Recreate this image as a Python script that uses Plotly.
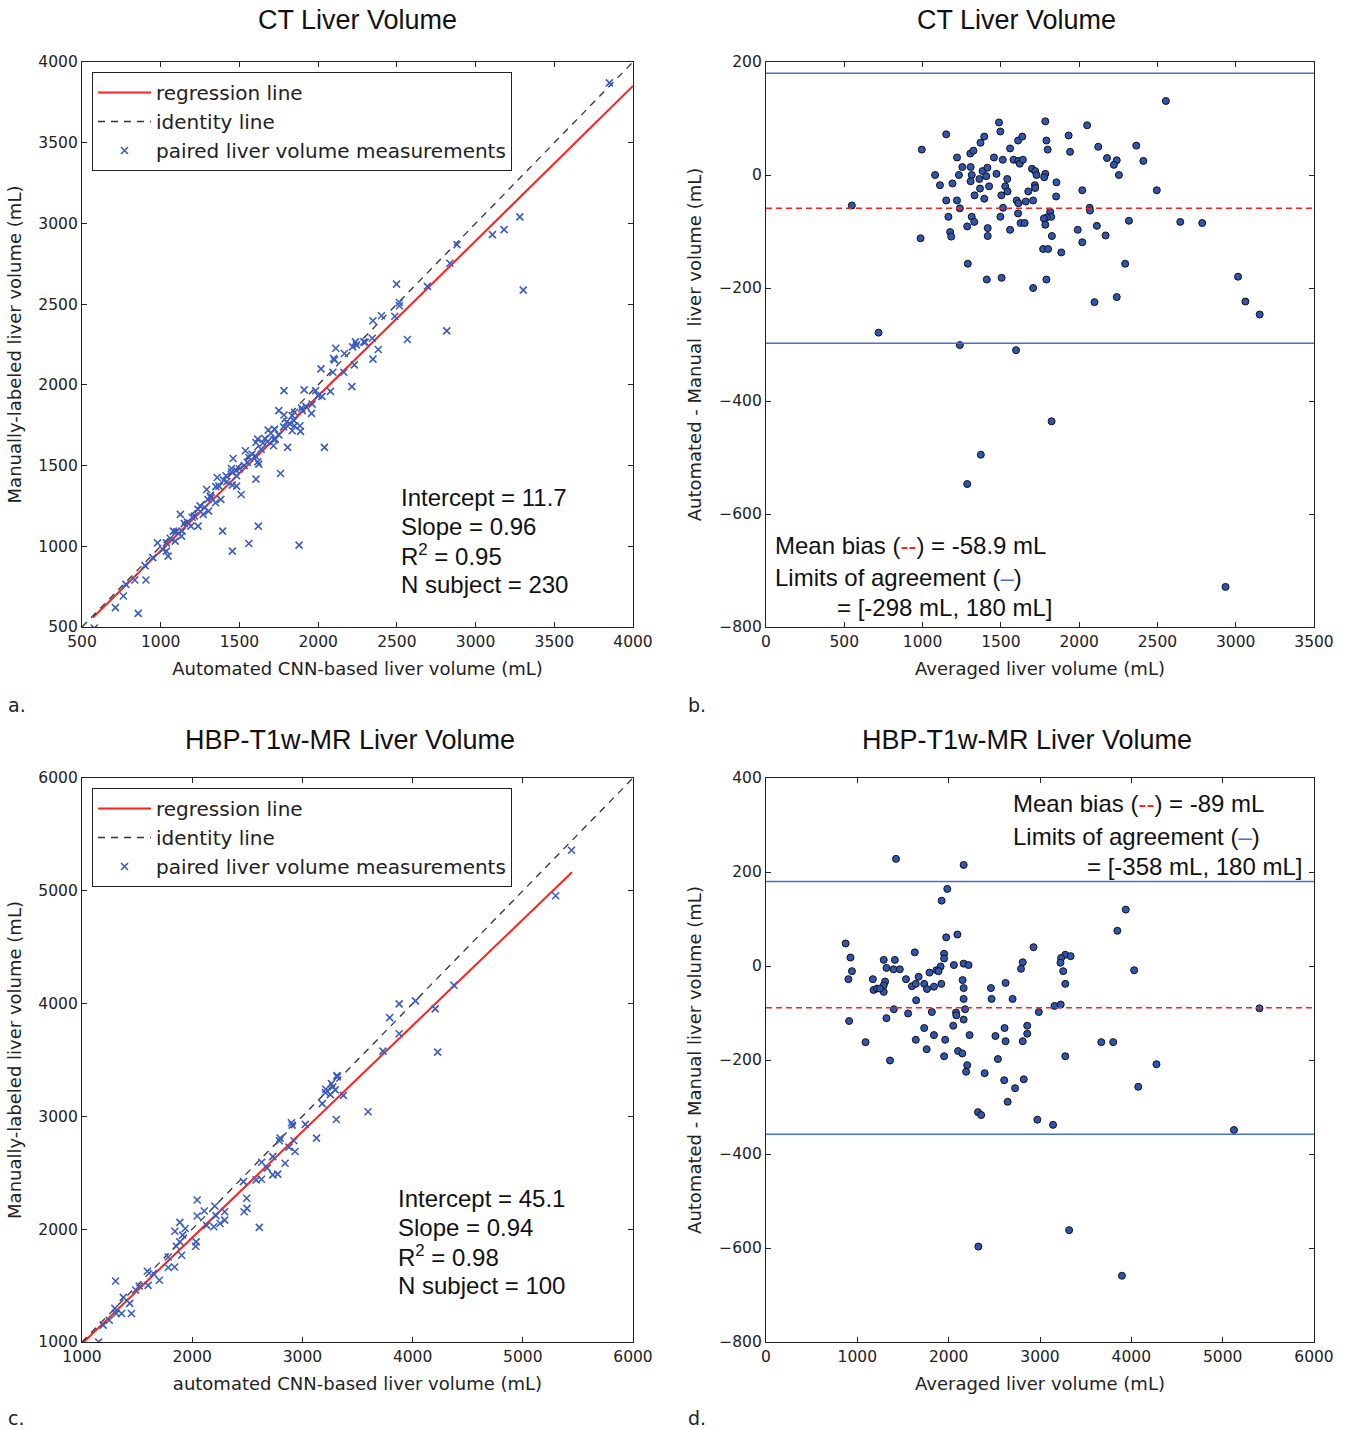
import plotly.graph_objects as go

# ---------------- DATA ----------------
# Panel a: CT, automated (x) vs manual (y)
a_auto = [3850, 3281, 3181, 3107, 3303, 2882, 2837, 2694, 2498, 2516, 2516, 2487, 2817, 2567, 2348, 2402,
          2382, 2344, 2290, 2237, 2219, 2112, 2167, 2098, 2348,
          2230, 2214, 2103, 2243, 2299, 2018, 2094, 2163, 2078, 2040, 1783, 1911, 1984, 2000, 2024,
          1962, 1922, 1895, 1958, 1750, 1783, 1835, 1846, 1850, 1835, 1888, 1884, 1806, 1723, 1683,
          1661, 1728, 1716, 1616, 1605, 1638, 1560, 1538, 1616, 1623, 1605, 1761, 1460, 1449, 1482,
          1455, 1482, 1511, 1415, 1359, 1370, 1292, 1315, 1348, 1382, 1304, 1237, 1270, 1214, 1125,
          1170, 1192, 1237, 1136, 1080, 1132, 1092, 1036, 980, 1013, 1036, 1047, 1393, 1620, 1560,
          1455, 1879, 835, 906, 779, 763, 712, 857, 578,
          1350, 1400, 1450, 1500, 1550, 1600, 1650, 1700, 1750, 1800, 1850, 1900, 1250, 1300, 1150,
          1200, 1420, 1480, 1530, 1580, 1680, 1720, 1780, 1820, 1320, 1280, 1100, 1060, 950, 900]
a_manual = [3871, 3041, 2962, 2931, 2587, 2869, 2753, 2610, 2624, 2510, 2490, 2425, 2334, 2281, 2397, 2428,
            2219, 2289, 2266, 2266, 2235, 2227, 2194, 2163, 2159,
            2124, 1989, 2155, 2248, 2264, 2099, 2078, 2078, 1960, 1613, 1964, 1969, 1964, 1933, 1929,
            1881, 1867, 1856, 1823, 1840, 1813, 1809, 1778, 1747, 1716, 1712, 1747, 1613, 1726, 1720,
            1668, 1664, 1623, 1664, 1643, 1602, 1550, 1592, 1523, 1509, 1416, 1451, 1544, 1482, 1437,
            1379, 1373, 1321, 1437, 1426, 1373, 1352, 1311, 1270, 1291, 1218, 1229, 1198, 1187, 1198,
            1150, 1125, 1125, 1094, 1094, 1063, 1032, 1021, 1021, 980, 970, 939, 1094, 1125, 1017,
            970, 1007, 791, 791, 764, 692, 620, 584, 493,
            1370, 1410, 1460, 1480, 1520, 1560, 1640, 1700, 1690, 1770, 1830, 1840, 1250, 1290, 1140,
            1180, 1400, 1470, 1500, 1570, 1650, 1660, 1740, 1760, 1300, 1240, 1090, 1050, 930, 880]

# Panel b: CT Bland-Altman (average, difference)
b_avg = [2554, 548, 995, 987, 719, 1238, 1597, 1151, 1080, 1111, 1220, 1191, 1151, 1220, 1238, 1165,
         1176, 1183, 1254, 1232, 1307, 1314, 1307, 1305, 1325, 1370, 1394, 1383, 1363, 1414, 1407,
         1367, 1332, 1394, 1425, 1314, 1330, 1285, 1416, 1416, 1289, 1410, 1505, 1488, 1497, 1456,
         1472, 1512, 1559, 1581, 1612, 1621, 1641, 1610, 1637, 1541, 1528, 1543, 1503, 1514, 1497,
         1559, 1601, 1612, 1610, 1626, 1652, 1659, 1675, 1706, 1699, 1719, 1728, 1717, 1719, 1706,
         1784, 1791, 1799, 1784, 1777, 1855, 1853, 1815, 1822, 1793, 1775, 1784, 1826, 1770, 1802,
         1886, 1791, 1933, 1942, 2020, 2051, 2067, 2069, 1991, 2020, 2113, 2122, 2178, 2240, 2222,
         2254, 2169, 2318, 2294, 2098, 2240, 2365, 2410, 2496, 2646, 2786, 3015, 3062, 3153,
         1824, 1372, 1285, 2935]
b_diff = [131, -54, 45, -112, -279, -301, -310, 72, 0, -18, 31, -15, -45, -45, -59, -74,
          -101, -109, 14, 0, 14, 0, -11, 38, 43, 57, 68, 7, -7, 13, -2,
          -24, -36, -42, -20, -74, -83, -91, -94, -108, -157, -185, -182, 93, 77, 31,
          2, 27, 47, 27, 25, 20, 27, 61, 68, -7, -20, -29, -36, -58, -74,
          -97, -45, -50, -68, -85, -85, -47, -29, -45, 11, 7, 0, -18, -23, -200,
          95, 61, 45, 2, -4, -13, -38, -65, -74, -75, -77, -88, -108, -131, -131,
          -137, -185, 70, 41, -27, 88, -58, -63, -97, -119, -90, 50, 30, 26, 18,
          0, -107, -81, -157, -225, -216, 52, 25, -27, -83, -85, -180, -224, -247,
          -436, -495, -547, -729]
b_bias = -58.9
b_loa = [-298, 180]

# Panel c: HBP-T1w-MR, automated (x) vs manual (y)
c_auto = [5442, 5298, 4375, 4205, 4026, 3878, 3792, 3878, 3731, 4227, 3314,
          3317, 3263, 3276, 3212, 3298, 3209, 3254, 3372, 3180, 3308, 3596, 3026, 3128, 2901, 2907,
          2923, 2933, 2878, 2798, 2792, 2843, 2731, 2680, 2631, 2628, 2580, 2731, 2776, 2465, 2494,
          2497, 2471, 2609, 2045, 2045, 2109, 2131, 2205, 2215, 2295, 2295, 2253, 2196, 1888, 1843,
          1936, 1913, 1888, 1856, 2035, 2032, 1904, 1840, 1782, 1782, 1702, 1648, 1593, 1600, 1305,
          1375, 1433, 1449, 1298, 1311, 1359, 1247, 1192, 1151, 1519, 1487]
c_manual = [5359, 4956, 4163, 3953, 4024, 3997, 3876, 3733, 3579, 3570, 3362,
            3350, 3291, 3262, 3241, 3235, 3211, 3193, 3187, 3113, 2973, 3041, 2929, 2807, 2944, 2923,
            2784, 2689, 2728, 2808, 2784, 2585, 2644, 2541, 2594, 2443, 2437, 2482, 2488, 2422, 2274,
            2185, 2155, 2016, 2259, 2117, 2161, 2034, 2206, 2120, 2155, 2081, 2051, 2022, 2060, 1982,
            2006, 1947, 1888, 1849, 1888, 1849, 1769, 1665, 1754, 1660, 1547, 1607, 1627, 1502, 1541,
            1395, 1342, 1253, 1298, 1253, 1253, 1193, 1149, 1000, 1496, 1461]

# Panel d: HBP-T1w-MR Bland-Altman (average, difference)
d_avg = [1423, 2164, 1985, 1923, 3939, 3847, 2096, 1973, 872, 2929, 1629, 1950, 1950, 925, 1289, 1411,
         3277, 3335, 3231, 3224, 2811, 2792, 2164, 2218, 2057, 1319, 1396, 1465, 941, 1912, 1866,
         1889, 1790, 3254, 4031, 902, 1170, 1533, 1671, 1304, 1289, 1289, 1178, 1216, 1247, 1598,
         1640, 1732, 1763, 1839, 1920, 2153, 2164, 2164, 2180, 2463, 2623, 2470, 2700, 3277, 1644,
         1400, 1556, 1816, 2080, 2084, 2164, 2987, 3159, 3227, 910, 1319, 5403, 1732, 2050, 1839,
         1962, 2229, 2512, 2612, 2860, 2860, 2811, 2623, 1640, 1090, 3671, 3801, 1759, 1950, 2103,
         2149, 3277, 1358, 2539, 4275, 2203, 2191, 2394, 2608, 2822, 2727, 2646, 2321, 2356, 2971,
         3143, 4076, 5124, 3319, 2325, 3897]
d_diff = [228, 215, 164, 139, 120, 75, 67, 61, 48, 40, 29, 26, 16, 18, 13, 13,
          24, 21, 17, 7, 8, -6, 5, 2, 2, -4, -7, -7, -11, -1, -9,
          -11, -14, -11, -9, -28, -28, -28, -23, -33, -41, -55, -51, -48, -48, -43,
          -38, -38, -49, -44, -38, -30, -47, -70, -92, -47, -36, -70, -70, -38, -73,
          -92, -101, -98, -99, -105, -114, -98, -85, -82, -117, -111, -90, -132, -127, -147,
          -157, -147, -149, -132, -127, -144, -160, -160, -157, -162, -162, -162, -177, -192, -181,
          -186, -192, -201, -198, -209, -211, -225, -228, -243, -241, -260, -289, -311, -317, -327,
          -338, -257, -349, -562, -597, -659]
d_bias = -89
d_loa = [-358, 180]

# regression fits
a_intercept, a_slope = 11.7, 0.96
c_intercept, c_slope = 45.1, 0.94
a_range = [570, 4000]
c_range = [1000, 5446]

# stats text
a_stats = ["Intercept = 11.7", "Slope = 0.96", "R<sup>2</sup> = 0.95", "N subject = 230"]
c_stats = ["Intercept = 45.1", "Slope = 0.94", "R<sup>2</sup> = 0.98", "N subject = 100"]

# ---------------- STYLE ----------------
W, H = 1347, 1429
X_BLUE = "#3a5cc0"
DOT_FILL = "#2f55b0"
LOA_BLUE = "#4a70cc"
RED = "#ff2020"
TICK_FONT = dict(family="DejaVu Sans", size=15.5, color="#222")
LAB_FONT = dict(family="DejaVu Sans", size=18, color="#222")


def px_x(p):
    return p / W


def px_y(p):
    return 1 - p / H


dom = {
    "a": ([px_x(82), px_x(633)], [px_y(627), px_y(62)]),
    "b": ([px_x(766), px_x(1314)], [px_y(627), px_y(62)]),
    "c": ([px_x(82), px_x(633)], [px_y(1342), px_y(778)]),
    "d": ([px_x(766), px_x(1314)], [px_y(1342), px_y(778)]),
}

fig = go.Figure()

# Panel a
fig.add_trace(go.Scatter(x=a_range, y=[a_intercept + a_slope * v for v in a_range], mode="lines",
                         line=dict(color=RED, width=2), name="regression line",
                         xaxis="x", yaxis="y", legend="legend"))
fig.add_trace(go.Scatter(x=[500, 4000], y=[500, 4000], mode="lines",
                         line=dict(color="#333", width=1.3, dash="7px,6px"), name="identity line",
                         xaxis="x", yaxis="y", legend="legend"))
fig.add_trace(go.Scatter(x=a_auto, y=a_manual, mode="markers",
                         marker=dict(symbol="x-thin", size=7, line=dict(color=X_BLUE, width=1.6)),
                         name="paired liver volume measurements", xaxis="x", yaxis="y", legend="legend"))

# Panel b
fig.add_trace(go.Scatter(x=b_avg, y=b_diff, mode="markers",
                         marker=dict(symbol="circle", size=7, color=DOT_FILL, line=dict(color="#111", width=1)),
                         showlegend=False, xaxis="x2", yaxis="y2"))

# Panel c
fig.add_trace(go.Scatter(x=c_range, y=[c_intercept + c_slope * v for v in c_range], mode="lines",
                         line=dict(color=RED, width=2), name="regression line",
                         xaxis="x3", yaxis="y3", legend="legend2"))
fig.add_trace(go.Scatter(x=[1000, 6000], y=[1000, 6000], mode="lines",
                         line=dict(color="#333", width=1.3, dash="7px,6px"), name="identity line",
                         xaxis="x3", yaxis="y3", legend="legend2"))
fig.add_trace(go.Scatter(x=c_auto, y=c_manual, mode="markers",
                         marker=dict(symbol="x-thin", size=7, line=dict(color=X_BLUE, width=1.6)),
                         name="paired liver volume measurements", xaxis="x3", yaxis="y3", legend="legend2"))

# Panel d
fig.add_trace(go.Scatter(x=d_avg, y=d_diff, mode="markers",
                         marker=dict(symbol="circle", size=7, color=DOT_FILL, line=dict(color="#111", width=1)),
                         showlegend=False, xaxis="x4", yaxis="y4"))

shapes = []
for xr, yr, bias, loa in (("x2", "y2", b_bias, b_loa), ("x4", "y4", d_bias, d_loa)):
    shapes.append(dict(type="line", xref=xr + " domain", yref=yr, x0=0, x1=1, y0=bias, y1=bias,
                       line=dict(color=RED, width=1.5, dash="6px,4px")))
    for v in loa:
        shapes.append(dict(type="line", xref=xr + " domain", yref=yr, x0=0, x1=1, y0=v, y1=v,
                           line=dict(color=LOA_BLUE, width=1.5)))


def axis(domain, rng, dtick, title, anchor, tick0=None):
    d = dict(domain=domain, range=rng, dtick=dtick, anchor=anchor, showgrid=False, zeroline=False,
             showline=True, linecolor="#222", linewidth=1.2, mirror="allticks", ticks="inside",
             ticklen=5, tickcolor="#222", tickfont=TICK_FONT, automargin=False,
             title=dict(text=title, font=LAB_FONT, standoff=12))
    if tick0 is not None:
        d["tick0"] = tick0
    return d


LEG_FONT = dict(family="DejaVu Sans", size=20, color="#222")
layout = dict(
    width=W, height=H, margin=dict(l=0, r=0, t=0, b=0, autoexpand=False),
    paper_bgcolor="white", plot_bgcolor="white",
    xaxis=axis(dom["a"][0], [500, 4000], 500, "Automated CNN-based liver volume (mL)", "y"),
    yaxis=axis(dom["a"][1], [500, 4000], 500, "Manually-labeled liver volume (mL)", "x"),
    xaxis2=axis(dom["b"][0], [0, 3500], 500, "Averaged liver volume (mL)", "y2"),
    yaxis2=axis(dom["b"][1], [-800, 200], 200, "Automated - Manual  liver volume (mL)", "x2", tick0=0),
    xaxis3=axis(dom["c"][0], [1000, 6000], 1000, "automated CNN-based liver volume (mL)", "y3"),
    yaxis3=axis(dom["c"][1], [1000, 6000], 1000, "Manually-labeled liver volume (mL)", "x3"),
    xaxis4=axis(dom["d"][0], [0, 6000], 1000, "Averaged liver volume (mL)", "y4"),
    yaxis4=axis(dom["d"][1], [-800, 400], 200, "Automated - Manual liver volume (mL)", "x4", tick0=0),
    shapes=shapes,
    legend=dict(x=px_x(92), y=px_y(72), xanchor="left", yanchor="top", bgcolor="white",
                bordercolor="#222", borderwidth=1, font=LEG_FONT, itemwidth=53),
    legend2=dict(x=px_x(92), y=px_y(788), xanchor="left", yanchor="top", bgcolor="white",
                 bordercolor="#222", borderwidth=1, font=LEG_FONT, itemwidth=53),
)
fig.update_layout(**layout)

ANN_FONT = dict(family="Liberation Sans, Arial", size=24, color="#111")
TITLE_FONT = dict(family="Liberation Sans, Arial", size=27, color="#111")
LET_FONT = dict(family="DejaVu Sans", size=19, color="#222")
anns = [
    dict(text="CT Liver Volume", x=px_x(357), y=px_y(20), font=TITLE_FONT),
    dict(text="CT Liver Volume", x=px_x(1016), y=px_y(20), font=TITLE_FONT),
    dict(text="HBP-T1w-MR Liver Volume", x=px_x(350), y=px_y(740), font=TITLE_FONT),
    dict(text="HBP-T1w-MR Liver Volume", x=px_x(1027), y=px_y(740), font=TITLE_FONT),
    dict(text="Mean bias (<span style='color:#ff2020'>--</span>) = -58.9 mL",
         x=px_x(773), y=px_y(545), xanchor="left", font=ANN_FONT),
    dict(text="Limits of agreement (<span style='color:#4a70cc'>–</span>)",
         x=px_x(773), y=px_y(577), xanchor="left", font=ANN_FONT),
    dict(text="= [-298 mL, 180 mL]", x=px_x(835), y=px_y(607), xanchor="left", font=ANN_FONT),
    dict(text="Mean bias (<span style='color:#ff2020'>--</span>) = -89 mL",
         x=px_x(1011), y=px_y(803), xanchor="left", font=ANN_FONT),
    dict(text="Limits of agreement (<span style='color:#4a70cc'>–</span>)",
         x=px_x(1011), y=px_y(836), xanchor="left", font=ANN_FONT),
    dict(text="= [-358 mL, 180 mL]", x=px_x(1304), y=px_y(866), xanchor="right", font=ANN_FONT),
    dict(text="a.", x=px_x(6), y=px_y(705), xanchor="left", font=LET_FONT),
    dict(text="b.", x=px_x(686), y=px_y(705), xanchor="left", font=LET_FONT),
    dict(text="c.", x=px_x(6), y=px_y(1418), xanchor="left", font=LET_FONT),
    dict(text="d.", x=px_x(686), y=px_y(1418), xanchor="left", font=LET_FONT),
]
for i, t in enumerate(a_stats):
    anns.append(dict(text=t, x=px_x(399), y=px_y(497 + 29 * i), xanchor="left", font=ANN_FONT))
for i, t in enumerate(c_stats):
    anns.append(dict(text=t, x=px_x(396), y=px_y(1198 + 29 * i), xanchor="left", font=ANN_FONT))
for a in anns:
    a.setdefault("xanchor", "center")
    a.setdefault("yanchor", "middle")
    a.update(xref="paper", yref="paper", showarrow=False)
fig.update_layout(annotations=anns)

fig.write_html("out.html", config={"displayModeBar": False},
               post_script="document.body.style.margin='0px';document.body.style.padding='0px';")
